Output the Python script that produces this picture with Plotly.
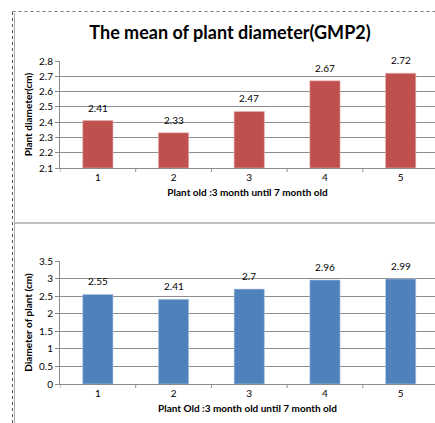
import plotly.graph_objects as go

categories = [1, 2, 3, 4, 5]
top_values = [2.41, 2.33, 2.47, 2.67, 2.72]
bottom_values = [2.55, 2.41, 2.70, 2.96, 2.99]
top_labels = ["2.41", "2.33", "2.47", "2.67", "2.72"]
bottom_labels = ["2.55", "2.41", "2.7", "2.96", "2.99"]
top_ticks = [2.1, 2.2, 2.3, 2.4, 2.5, 2.6, 2.7, 2.8]
bottom_ticks = [0, 0.5, 1, 1.5, 2, 2.5, 3, 3.5]

W, H = 435, 423
FONT = "Lato"
RED = "#C0504D"
BLUE = "#4F81BD"
GRID = "#8C8C8C"

def px(x):
    return x / W

def py(y):
    return 1 - y / H

fig = go.Figure()
fig.add_trace(go.Bar(x=categories, y=[v - 2.1 for v in top_values], base=2.1,
                     marker=dict(color=RED, line=dict(color="#E6B9B8", width=0.6)),
                     xaxis="x", yaxis="y", width=0.4,
                     text=top_labels, textposition="none", hoverinfo="skip"))
fig.add_trace(go.Bar(x=categories, y=bottom_values,
                     marker=dict(color=BLUE, line=dict(color="#B9CDE5", width=0.6)),
                     xaxis="x2", yaxis="y2", width=0.4,
                     text=bottom_labels, textposition="none", hoverinfo="skip"))

for c, v, t in zip(categories, top_values, top_labels):
    fig.add_annotation(x=c, y=v, xref="x", yref="y", text=t, showarrow=False,
                       yanchor="bottom", yshift=5, font=dict(family=FONT, size=10, color="#000"))
for c, v, t in zip(categories, bottom_values, bottom_labels):
    fig.add_annotation(x=c, y=v, xref="x2", yref="y2", text=t, showarrow=False,
                       yanchor="bottom", yshift=5, font=dict(family=FONT, size=10, color="#000"))

xr = [0.5, 5.5 - 3.5 / 75.7]
xcommon = dict(range=xr, tickvals=categories, showgrid=False, showline=True, linecolor=GRID,
               ticks="", tickfont=dict(family=FONT, size=10, color="#000"), fixedrange=True,
               zeroline=False, automargin=False)
ycommon = dict(showgrid=True, gridcolor=GRID, gridwidth=1, showline=True, linecolor=GRID,
               ticks="outside", ticklen=4, tickcolor=GRID, automargin=False, fixedrange=True,
               tickfont=dict(family=FONT, size=10, color="#000"), zeroline=False)
fig.update_layout(
    width=W, height=H,
    margin=dict(l=0, r=0, t=0, b=0, autoexpand=False),
    paper_bgcolor="white", plot_bgcolor="white",
    showlegend=False, hovermode=False,
    font=dict(family=FONT, color="#000"),
    xaxis=dict(domain=[px(60), 1], anchor="y", **xcommon,
               title=dict(text="<b>Plant old :3 month until 7 month old</b>", standoff=6,
                          font=dict(family=FONT, size=10))),
    yaxis=dict(domain=[py(168), py(61)], range=[2.1, 2.8], tickvals=top_ticks,
               ticktext=[f"{t:.1f}" for t in top_ticks], **ycommon,
               title=dict(text="<b>Plant diameter(cm)</b>", standoff=4,
                          font=dict(family=FONT, size=10))),
    xaxis2=dict(domain=[px(60), 1], anchor="y2", **xcommon,
                title=dict(text="<b>Plant Old :3 month old until 7 month old</b>", standoff=6,
                           font=dict(family=FONT, size=10))),
    yaxis2=dict(domain=[py(384), py(261)], range=[0, 3.5], tickvals=bottom_ticks,
                ticktext=[f"{t:g}" for t in bottom_ticks], **ycommon,
                title=dict(text="<b>Diameter of plant (cm)</b>", standoff=4,
                           font=dict(family=FONT, size=10))),
    title=dict(text="<b>The mean of plant diameter(GMP2)</b>", x=px(230), xanchor="center",
               y=py(33), yanchor="middle", font=dict(family=FONT, size=18, color="#000")),
)

# category boundary tick marks on x axes
for xa, ybot in (("x", 168), ("x2", 384)):
    for b in [0.5, 1.5, 2.5, 3.5, 4.5]:
        fig.add_shape(type="line", xref=xa, yref="paper", x0=b, x1=b,
                      y0=py(ybot), y1=py(ybot + 4), line=dict(color=GRID, width=1))

# chart borders
fig.add_shape(type="line", xref="paper", yref="paper", x0=px(12.5), x1=px(12.5), y0=py(12), y1=0,
              line=dict(color="#555", width=1, dash="dot"))
fig.add_shape(type="line", xref="paper", yref="paper", x0=px(12.5), x1=1, y0=py(11.5), y1=py(11.5),
              line=dict(color="#777", width=1, dash="dot"))
fig.add_shape(type="line", xref="paper", yref="paper", x0=px(14.5), x1=px(14.5), y0=py(13), y1=0,
              line=dict(color="#AAAAAA", width=1))
fig.add_shape(type="line", xref="paper", yref="paper", x0=px(14.5), x1=1, y0=py(223), y1=py(223),
              line=dict(color="#AAAAAA", width=1.5))

fig.write_html("out.html", config={"displayModeBar": False, "staticPlot": True},
               post_script="document.body.style.margin='0';document.body.style.overflow='hidden';"
                           "document.documentElement.style.overflow='hidden';")
